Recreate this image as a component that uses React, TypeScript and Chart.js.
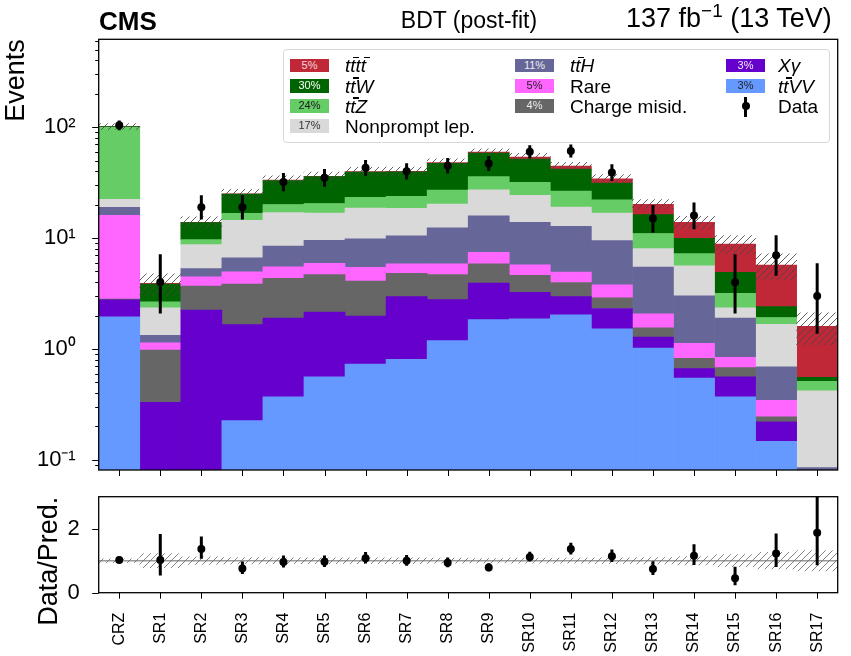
import React, { useEffect, useRef } from 'react';
import { Chart, registerables } from 'chart.js';

Chart.register(...registerables);

const FONT = '"Liberation Sans", Arial, Helvetica, sans-serif';

const categories = ['CRZ', 'SR1', 'SR2', 'SR3', 'SR4', 'SR5', 'SR6', 'SR7', 'SR8', 'SR9', 'SR10', 'SR11', 'SR12', 'SR13', 'SR14', 'SR15', 'SR16', 'SR17'];

// stacked backgrounds, bottom to top
const ttVV = [1.95, 0.03, 0.05, 0.226, 0.371, 0.562, 0.731, 0.807, 1.19, 1.84, 1.87, 2.03, 1.52, 1.02, 0.547, 0.37, 0.147, 0.03];
const xGamma = [0.82, 0.3, 2.19, 1.43, 1.53, 1.59, 1.25, 2.16, 1.6, 2.09, 1.37, 0.94, 0.8, 0.26, 0.117, 0.19, 0.073, 0.01];
const chargeMisid = [0.05, 0.646, 1.45, 2.19, 2.43, 2.53, 2.11, 1.84, 1.91, 1.94, 1.37, 1.01, 0.58, 0.27, 0.16, 0.12, 0.025, 0.005];
const rare = [13.2, 0.16, 0.79, 1.13, 1.19, 1.24, 1.35, 1.06, 1.17, 1.58, 1.14, 0.96, 0.89, 0.52, 0.3, 0.16, 0.1, 0.01];
const ttH = [2.9, 0.19, 0.82, 1.68, 2.97, 3.63, 4.4, 4.6, 6.5, 8.45, 8.15, 7.86, 5.7, 3.41, 1.89, 1.06, 0.347, 0.03];
const nonprompt = [3.4, 1.03, 3.43, 7.84, 8.5, 7.25, 8.8, 8.1, 7.9, 11.4, 10.4, 6.2, 7.3, 2.56, 2.62, 0.45, 0.98, 0.334];
const ttZ = [77.7, 0.31, 0.95, 2.2, 3.1, 3.7, 4.7, 5.3, 6.9, 8.5, 7.5, 7.5, 5.3, 2.96, 1.6, 0.82, 0.25, 0.093];
const ttW = [1.5, 1.19, 4.1, 8.2, 13.0, 15.3, 16.1, 15.8, 20.1, 22.8, 19.8, 15.5, 9.2, 5.3, 2.72, 1.74, 0.49, 0.042];
const tttt = [0.3, 0.05, 0.12, 0.2, 0.3, 0.35, 0.4, 0.45, 0.8, 1.2, 2.2, 2.7, 3.0, 3.9, 3.94, 3.94, 3.31, 1.05];

// observed data and its 68% interval
const dataObs = [104, 4, 19, 19, 32, 35, 43, 40, 45, 47, 60, 61, 39, 15, 16, 4, 7, 3];
const dataLow = [93.8, 2.09, 14.7, 14.7, 26.4, 29.1, 36.5, 33.7, 38.3, 40.2, 52.3, 53.2, 32.8, 11.2, 12.0, 2.09, 4.58, 1.37];
const dataHigh = [115.2, 7.16, 24.4, 24.4, 38.7, 42.0, 50.6, 47.4, 52.8, 54.9, 68.8, 69.9, 46.3, 19.9, 21.0, 7.16, 10.6, 5.92];

// relative uncertainty of the total prediction
const relUnc = [0.06, 0.22, 0.12, 0.1, 0.09, 0.09, 0.09, 0.09, 0.08, 0.07, 0.08, 0.08, 0.09, 0.1, 0.13, 0.19, 0.26, 0.32];

const yMajorTicks = [0.1, 1, 10, 100];
const yTickLabels = ['10\u207B\u00B9', '10\u2070', '10\u00B9', '10\u00B2'];
const ratioTicks = [0, 2];
const ratioTickLabels = ['0', '2'];

const series = [
  { key: 'ttVV', values: ttVV, color: '#6699ff' },
  { key: 'xg', values: xGamma, color: '#6600cc' },
  { key: 'cm', values: chargeMisid, color: '#666666' },
  { key: 'rare', values: rare, color: '#ff66ff' },
  { key: 'ttH', values: ttH, color: '#666699' },
  { key: 'np', values: nonprompt, color: '#d9d9d9' },
  { key: 'ttZ', values: ttZ, color: '#66cc66' },
  { key: 'ttW', values: ttW, color: '#006400' },
  { key: 'tttt', values: tttt, color: '#c02838' },
];

const Y_MIN = 0.081;
const Y_MAX = 621;

function makeHatch(ctx: CanvasRenderingContext2D, color: string, lw: number, size: number) {
  const c = document.createElement('canvas');
  c.width = size;
  c.height = size;
  const g = c.getContext('2d')!;
  g.strokeStyle = color;
  g.lineWidth = lw;
  g.beginPath();
  g.moveTo(0, size);
  g.lineTo(size, 0);
  g.moveTo(-size / 2, size / 2);
  g.lineTo(size / 2, -size / 2);
  g.moveTo(size / 2, size * 1.5);
  g.lineTo(size * 1.5, size / 2);
  g.stroke();
  return ctx.createPattern(c, 'repeat')!;
}

const zeroPad = (s: any) => {
  s.paddingTop = 0;
  s.paddingBottom = 0;
  s.paddingLeft = 0;
  s.paddingRight = 0;
};

const frameTicks = {
  id: 'frameTicks',
  beforeDatasetsDraw(chart: any, _a: any, opts: any) {
    if (opts.unity === undefined) return;
    const { ctx, chartArea: a } = chart;
    const py = chart.scales.y.getPixelForValue(opts.unity);
    ctx.save();
    ctx.strokeStyle = '#999999';
    ctx.lineWidth = 1.5;
    ctx.beginPath();
    ctx.moveTo(a.left, py);
    ctx.lineTo(a.right, py);
    ctx.stroke();
    ctx.restore();
  },
  afterDatasetsDraw(chart: any, _a: any, opts: any) {
    const { ctx, chartArea: a } = chart;
    const xs = chart.scales.x;
    const ys = chart.scales.y;
    ctx.save();
    ctx.strokeStyle = '#000';
    ctx.lineWidth = 1;
    ctx.beginPath();
    categories.forEach((_c, i) => {
      const px = Math.round(xs.getPixelForValue(i)) + 0.5;
      ctx.moveTo(px, a.bottom);
      ctx.lineTo(px, a.bottom + 6);
    });
    (opts.major || []).forEach((v: number) => {
      const py = Math.round(ys.getPixelForValue(v)) + 0.5;
      ctx.moveTo(a.left, py);
      ctx.lineTo(a.left - 6.5, py);
    });
    (opts.minor || []).forEach((v: number) => {
      const py = Math.round(ys.getPixelForValue(v)) + 0.5;
      ctx.moveTo(a.left, py);
      ctx.lineTo(a.left - 3.5, py);
    });
    ctx.stroke();
    ctx.lineWidth = 1.3;
    ctx.strokeRect(a.left, a.top, a.right - a.left, a.bottom - a.top);
    ctx.restore();
  },
};

const TB = ({ ch }: { ch: string }) => (
  <span style={{ position: 'relative', display: 'inline-block', lineHeight: 1 }}>
    {ch}
    <span style={{ position: 'absolute', left: '0.16em', top: '0.04em', width: '0.3em', height: '0.08em', background: '#000' }} />
  </span>
);

const legendItems = [
  { col: 0, row: 0, color: '#c02838', pct: '5%', pctColor: '#f3d6d9', label: <i><>t</><TB ch="t" /><>t</><TB ch="t" /></i> },
  { col: 0, row: 1, color: '#006400', pct: '30%', pctColor: '#ffffff', label: <i><>t</><TB ch="t" /><>W</></i> },
  { col: 0, row: 2, color: '#66cc66', pct: '24%', pctColor: '#1a1a1a', label: <i><>t</><TB ch="t" /><>Z</></i> },
  { col: 0, row: 3, color: '#d9d9d9', pct: '17%', pctColor: '#333333', label: <>Nonprompt lep.</> },
  { col: 1, row: 0, color: '#666699', pct: '11%', pctColor: '#eeeeee', label: <i><>t</><TB ch="t" /><>H</></i> },
  { col: 1, row: 1, color: '#ff66ff', pct: '5%', pctColor: '#222222', label: <>Rare</> },
  { col: 1, row: 2, color: '#666666', pct: '4%', pctColor: '#eeeeee', label: <>Charge misid.</> },
  { col: 2, row: 0, color: '#6600cc', pct: '3%', pctColor: '#eeeeee', label: <i>X&gamma;</i> },
  { col: 2, row: 1, color: '#6699ff', pct: '3%', pctColor: '#222222', label: <i><>t</><TB ch="t" /><>VV</></i> },
];

const colPatchX = [290, 515, 726];
const colLabelX = [345, 570, 778];
const rowY = [65.7, 86, 106, 126];

export default function App() {
  const topRef = useRef<HTMLCanvasElement>(null);
  const botRef = useRef<HTMLCanvasElement>(null);

  useEffect(() => {
    Chart.defaults.font.family = FONT;
    const c1 = topRef.current!;
    const c2 = botRef.current!;
    const ctx1 = c1.getContext('2d')!;
    const ctx2 = c2.getContext('2d')!;

    const totals = categories.map((_c, i) => series.reduce((s, d) => s + d.values[i], 0));

    const cum = categories.map(() => 0);
    const stackDatasets = series.map((s, k) => {
      const data = categories.map((_c, i) => {
        const lo = cum[i] === 0 ? 1e-4 : cum[i];
        cum[i] += s.values[i];
        return [lo, cum[i]];
      });
      return {
        type: 'bar',
        label: s.key,
        data,
        backgroundColor: s.color,
        borderWidth: 0,
        grouped: false,
        barPercentage: 1,
        categoryPercentage: 1,
        order: 10 + k,
      };
    });

    const hatchTop = makeHatch(ctx1, 'rgba(70,70,70,0.85)', 1, 7);
    const hatchBot = makeHatch(ctx2, 'rgba(110,110,110,0.85)', 1, 7);

    const minorTicks: number[] = [];
    for (let e = -2; e <= 2; e++) {
      for (let m = 2; m <= 9; m++) {
        const v = m * Math.pow(10, e);
        if (v > Y_MIN && v < Y_MAX) minorTicks.push(v);
      }
    }

    const ch1 = new Chart(ctx1, {
      type: 'bar',
      data: {
        labels: categories,
        datasets: [
          {
            type: 'line',
            label: 'Data',
            data: dataObs,
            showLine: false,
            pointRadius: 4,
            pointBackgroundColor: '#000',
            pointBorderWidth: 0,
            order: 0,
          } as any,
          {
            type: 'bar',
            label: 'err',
            data: categories.map((_c, i) => [dataLow[i], dataHigh[i]]),
            backgroundColor: '#000',
            borderWidth: 0,
            grouped: false,
            maxBarThickness: 3,
            order: 1,
          },
          {
            type: 'bar',
            label: 'unc',
            data: totals.map((t, i) => [t * (1 - relUnc[i]), t * (1 + relUnc[i])]),
            backgroundColor: hatchTop,
            borderWidth: 0,
            grouped: false,
            barPercentage: 1,
            categoryPercentage: 1,
            order: 2,
          },
          ...stackDatasets,
        ] as any,
      },
      options: {
        animation: false,
        responsive: false,
        events: [],
        layout: { padding: { left: 0, right: 13.3, top: 39.3, bottom: 0 } },
        plugins: {
          legend: { display: false },
          tooltip: { enabled: false },
          frameTicks: { major: yMajorTicks, minor: minorTicks },
        } as any,
        scales: {
          x: {
            type: 'category',
            offset: true,
            grid: { display: false },
            border: { display: false },
            ticks: { display: false },
            afterFit: (s: any) => { s.height = 10; zeroPad(s); },
          },
          y: {
            type: 'logarithmic',
            min: Y_MIN,
            max: Y_MAX,
            grid: { display: false },
            border: { display: false },
            afterBuildTicks: (s: any) => { s.ticks = yMajorTicks.map((v) => ({ value: v })); },
            ticks: {
              autoSkip: false,
              color: '#000',
              padding: 15,
              font: { size: 22, family: FONT },
              callback: (v: any) => {
                const i = yMajorTicks.indexOf(Number(v));
                return i >= 0 ? yTickLabels[i] : '';
              },
            },
            title: { display: true, text: 'Events', align: 'end', color: '#000', padding: 0, font: { size: 27, family: FONT } },
            afterFit: (s: any) => { s.width = 98.7; zeroPad(s); },
          },
        } as any,
      },
      plugins: [frameTicks as any],
    });

    const ratio = categories.map((_c, i) => dataObs[i] / totals[i]);
    const ch2 = new Chart(ctx2, {
      type: 'bar',
      data: {
        labels: categories,
        datasets: [
          {
            type: 'line',
            label: 'ratio',
            data: ratio,
            showLine: false,
            pointRadius: 4,
            pointBackgroundColor: '#000',
            pointBorderWidth: 0,
            order: 0,
          } as any,
          {
            type: 'bar',
            label: 'ratioErr',
            data: categories.map((_c, i) => [dataLow[i] / totals[i], dataHigh[i] / totals[i]]),
            backgroundColor: '#000',
            borderWidth: 0,
            grouped: false,
            maxBarThickness: 3,
            order: 1,
          },
          {
            type: 'bar',
            label: 'ratioUnc',
            data: categories.map((_c, i) => [1 - relUnc[i], 1 + relUnc[i]]),
            backgroundColor: hatchBot,
            borderWidth: 0,
            grouped: false,
            barPercentage: 1,
            categoryPercentage: 1,
            order: 2,
          },
        ] as any,
      },
      options: {
        animation: false,
        responsive: false,
        events: [],
        layout: { padding: { left: 0, right: 13.3, top: 16.7, bottom: 0 } },
        plugins: {
          legend: { display: false },
          tooltip: { enabled: false },
          frameTicks: { major: ratioTicks, minor: [], unity: 1 },
        } as any,
        scales: {
          x: {
            type: 'category',
            offset: true,
            grid: { display: false },
            border: { display: false },
            ticks: { autoSkip: false, minRotation: 90, maxRotation: 90, padding: 12, color: '#000', font: { size: 16, family: FONT } },
            afterFit: (s: any) => { s.height = 63.3; zeroPad(s); },
          },
          y: {
            type: 'linear',
            min: 0,
            max: 3,
            grid: { display: false },
            border: { display: false },
            afterBuildTicks: (s: any) => { s.ticks = ratioTicks.map((v) => ({ value: v })); },
            ticks: {
              autoSkip: false,
              color: '#000',
              padding: 11,
              font: { size: 22, family: FONT },
              callback: (v: any) => {
                const i = ratioTicks.indexOf(Number(v));
                return i >= 0 ? ratioTickLabels[i] : '';
              },
            },
            title: { display: true, text: 'Data/Pred.', align: 'end', color: '#000', padding: { top: 33, bottom: 0 }, font: { size: 27, family: FONT } },
            afterFit: (s: any) => { s.width = 98.7; zeroPad(s); },
          },
        } as any,
      },
      plugins: [frameTicks as any],
    });

    return () => {
      ch1.destroy();
      ch2.destroy();
    };
  }, []);

  return (
    <div style={{ position: 'absolute', left: 0, top: 0, width: 851, height: 656, fontFamily: FONT, color: '#000', background: '#fff', overflow: 'hidden' }}>
      <canvas ref={topRef} width={851} height={480} style={{ position: 'absolute', left: 0, top: 0, width: 851, height: 480 }} />
      <canvas ref={botRef} width={851} height={176} style={{ position: 'absolute', left: 0, top: 480, width: 851, height: 176 }} />
      <div style={{ position: 'absolute', left: 99, top: 7.5, fontSize: 26, lineHeight: '26px', fontWeight: 'bold', whiteSpace: 'nowrap' }}>CMS</div>
      <div style={{ position: 'absolute', left: 469, top: 8.7, fontSize: 23, lineHeight: '23px', transform: 'translateX(-50%)', whiteSpace: 'nowrap' }}>BDT (post-fit)</div>
      <div style={{ position: 'absolute', right: 19.3, top: 5.2, fontSize: 27, lineHeight: '27px', whiteSpace: 'nowrap' }}>
        137 fb<span style={{ fontSize: '0.7em', position: 'relative', top: '-0.55em' }}>{'\u22121'}</span> (13 TeV)
      </div>
      <div style={{ position: 'absolute', left: 283, top: 49, width: 547, height: 94, boxSizing: 'border-box', border: '1.3px solid #d8d8d8', borderRadius: 4, background: 'rgba(255,255,255,0.85)' }} />
      {legendItems.map((it, idx) => (
        <React.Fragment key={idx}>
          <div style={{ position: 'absolute', left: colPatchX[it.col], top: rowY[it.row] - 6.7, width: 39, height: 13.3, background: it.color, color: it.pctColor, fontSize: 11, lineHeight: '13.3px', textAlign: 'center' }}>{it.pct}</div>
          <div style={{ position: 'absolute', left: colLabelX[it.col], top: rowY[it.row] - 9.5, fontSize: 19, lineHeight: '19px', whiteSpace: 'nowrap' }}>{it.label}</div>
        </React.Fragment>
      ))}
      <div style={{ position: 'absolute', left: 744, top: 96.5, width: 3, height: 20, background: '#000' }} />
      <div style={{ position: 'absolute', left: 741.5, top: 102, width: 8, height: 8, borderRadius: 4, background: '#000' }} />
      <div style={{ position: 'absolute', left: colLabelX[2], top: rowY[2] - 9.5, fontSize: 19, lineHeight: '19px', whiteSpace: 'nowrap' }}>Data</div>
    </div>
  );
}
